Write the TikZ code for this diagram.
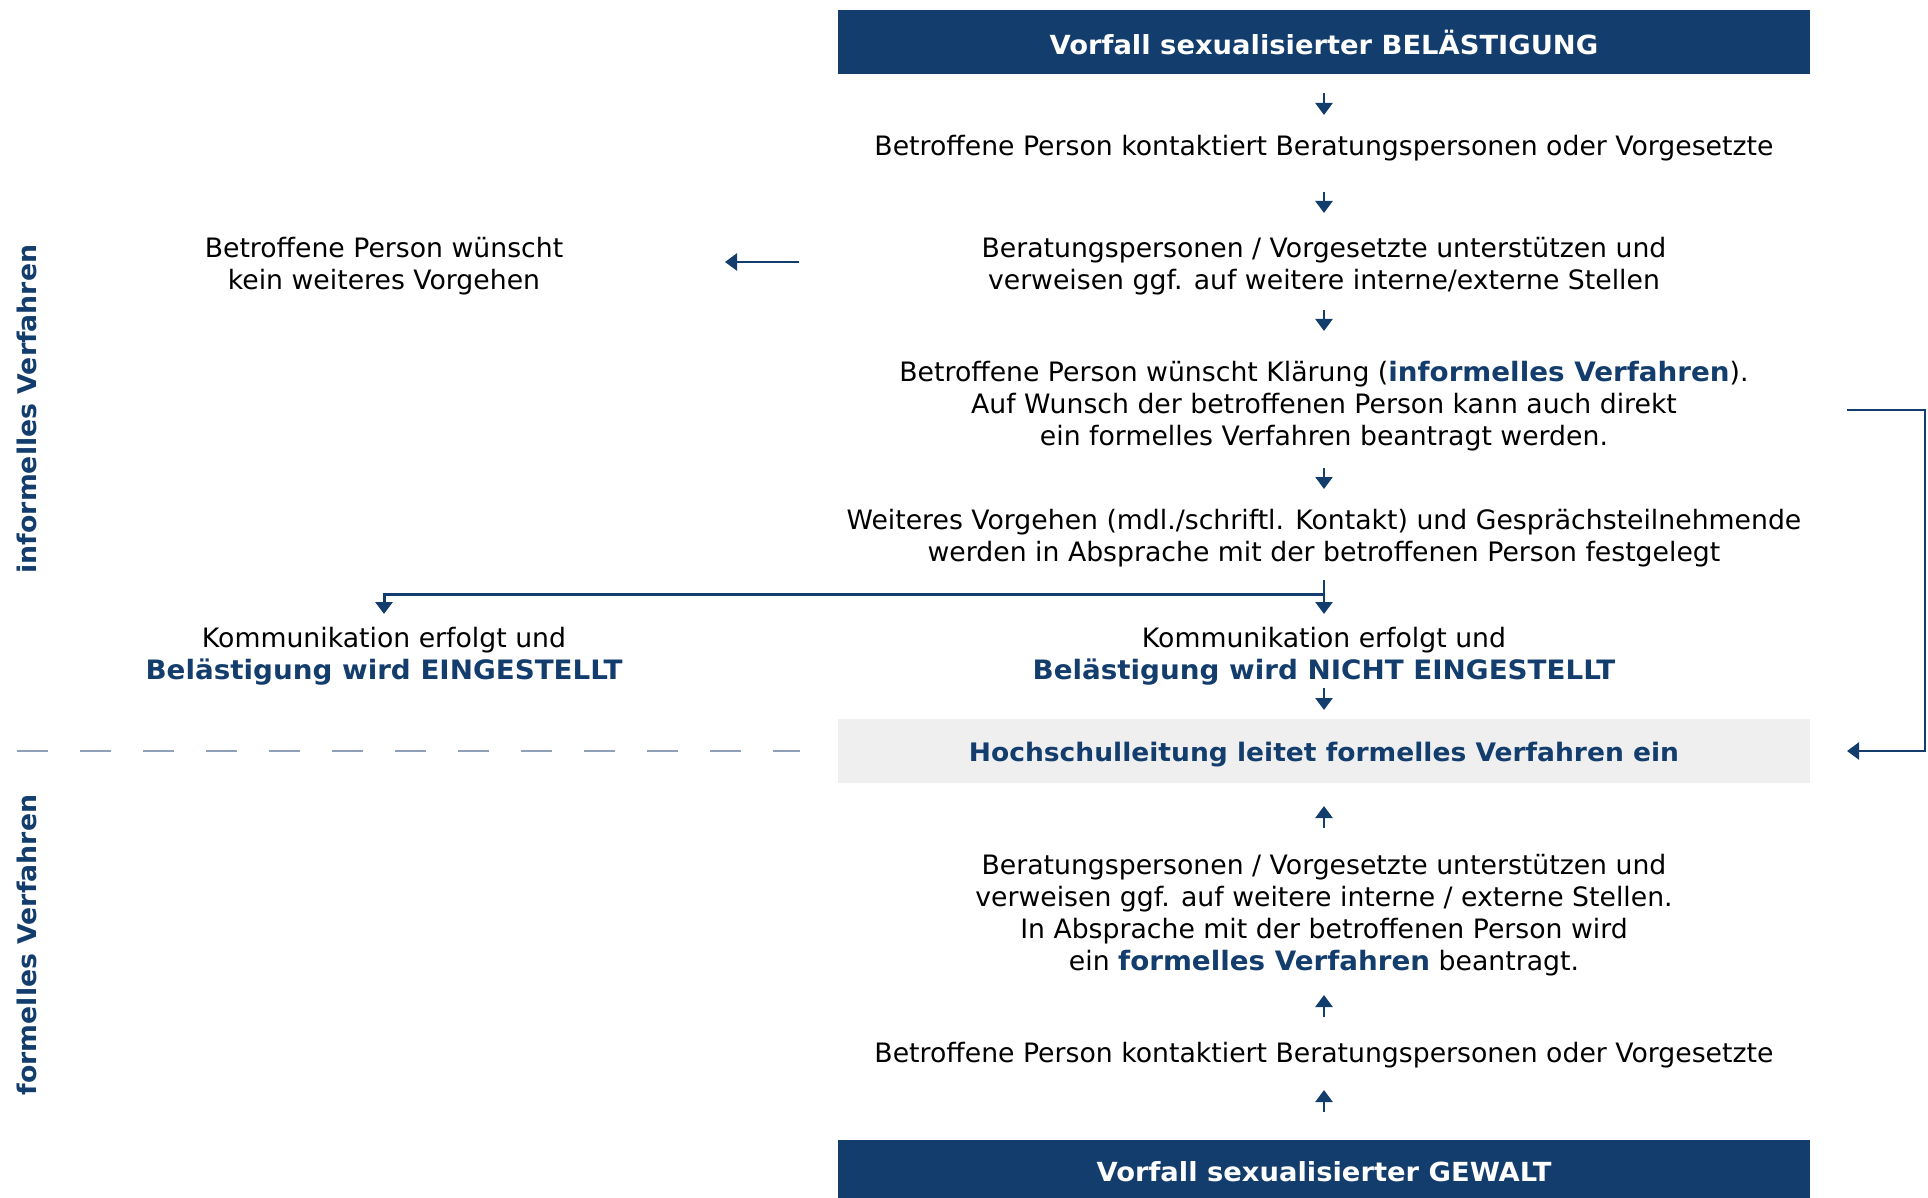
\documentclass[tikz,border=0pt]{standalone}
\usepackage{fontspec}
\setmainfont{DejaVu Sans}[BoldFeatures={FakeStretch=1.04}]
\usetikzlibrary{arrows.meta}
\definecolor{navy}{HTML}{133D6C}
\definecolor{lgray}{HTML}{EFEFEF}
\definecolor{dashc}{HTML}{8FA1B9}
\newcommand\hlb[1]{\textcolor{navy}{\bfseries #1}}
\begin{document}
\begin{tikzpicture}[x=1pt,y=-1pt,
  txt/.style={align=center, font=\fontsize{26.7}{32}\selectfont, inner sep=0pt},
  band/.style={minimum width=972pt, minimum height=64pt, inner sep=0pt, fill=navy, text=white, font=\fontsize{26.3}{32}\selectfont\bfseries},
  grayband/.style={minimum width=972pt, minimum height=64pt, inner sep=0pt, fill=lgray, text=navy, text height=21.4pt, text depth=0pt, font=\fontsize{25.5}{32}\selectfont\bfseries},
  sidelabel/.style={rotate=90, text=navy, inner sep=0pt, font=\fontsize{25.7}{32}\selectfont\bfseries},
  arr/.style={draw=navy, line width=2.5pt, -{Triangle[width=17pt,length=12pt]}},
  dashline/.style={draw=dashc, line width=2pt, dash pattern=on 31pt off 32pt}
]
\useasboundingbox (0,0) rectangle (1928,1198);
\begin{scope}
\clip (0,0) rectangle (1928,1198);
\node[band] (top) at (1324,42) {Vorfall sexualisierter BELÄSTIGUNG};
\node[txt] (t1) at (1324,148) {Betroffene Person kontaktiert Beratungspersonen oder Vorgesetzte};
\node[txt] (t2) at (1324,266) {Beratungspersonen / Vorgesetzte unterstützen und\\verweisen ggf. auf weitere interne/externe Stellen};
\node[txt] (kein) at (384,266) {Betroffene Person wünscht\\kein weiteres Vorgehen};
\node[txt] (t3) at (1324,406) {Betroffene Person wünscht Klärung (\hlb{informelles Verfahren}).\\Auf Wunsch der betroffenen Person kann auch direkt\\ein formelles Verfahren beantragt werden.};
\node[txt] (t4) at (1324,538) {Weiteres Vorgehen (mdl./schriftl. Kontakt) und Gesprächsteilnehmende\\werden in Absprache mit der betroffenen Person festgelegt};
\node[txt] (ein) at (384,656) {Kommunikation erfolgt und\\\hlb{Belästigung wird EINGESTELLT}};
\node[txt] (nicht) at (1324,656) {Kommunikation erfolgt und\\\hlb{Belästigung wird NICHT EINGESTELLT}};
\node[grayband] (hs) at (1324,751) {Hochschulleitung leitet formelles Verfahren ein};
\node[txt] (b3) at (1324,915) {Beratungspersonen / Vorgesetzte unterstützen und\\verweisen ggf. auf weitere interne / externe Stellen.\\In Absprache mit der betroffenen Person wird\\ein \hlb{formelles Verfahren} beantragt.};
\node[txt] (b2) at (1324,1055) {Betroffene Person kontaktiert Beratungspersonen oder Vorgesetzte};
\node[band] (bot) at (1324,1172) {Vorfall sexualisierter GEWALT};
\node[sidelabel] (inf) at (27,409) {informelles Verfahren};
\node[sidelabel] (form) at (27,945) {formelles Verfahren};

\draw[arr] (top |- 0,93) -- (top |- 0,115);
\draw[arr] (t1 |- 0,192) -- (t1 |- 0,213);
\draw[arr] (t2 |- 0,310) -- (t2 |- 0,331);
\draw[arr] (t3 |- 0,468) -- (t3 |- 0,489);
\draw[arr] (t4 |- 0,580) -- (t4 |- 0,614);
\draw[arr, line width=3pt] (t4 |- 0,594) -| (ein |- 0,614);
\draw[arr] (nicht |- 0,688) -- (nicht |- 0,710);
\coordinate (la) at (799,262);
\draw[arr] (la) -- (la -| 725,0);
\draw[arr] (b3 |- 0,828) -- (b3 |- 0,806);
\draw[arr] (b2 |- 0,1017) -- (b2 |- 0,995);
\draw[arr] (bot |- 0,1112) -- (bot |- 0,1090);
\coordinate (fb) at (1847,410);
\draw[arr] (fb) -- (fb -| 1925,0) |- (hs.east -| 1847,0);
\draw[dashline] (hs.west -| 17,0) -- (hs.west -| 800,0);
\end{scope}
\end{tikzpicture}
\end{document}
